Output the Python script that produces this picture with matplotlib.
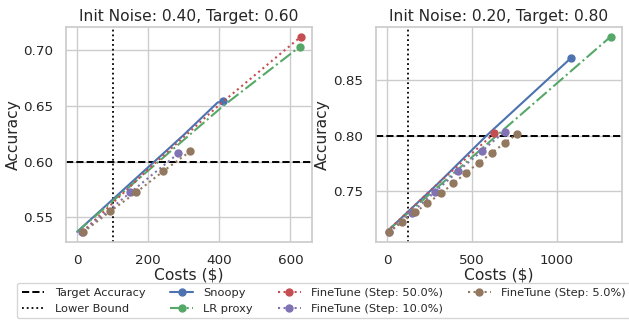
import matplotlib
matplotlib.use("Agg")
import matplotlib.pyplot as plt
import seaborn as sns

# --- dati ---
titles = ["Init Noise: 0.40, Target: 0.60", "Init Noise: 0.20, Target: 0.80"]
targets = [0.60, 0.80]
lower_bounds = [100, 123]
x_ticks = [[0, 200, 400, 600], [0, 500, 1000]]
y_ticks = [[0.55, 0.60, 0.65, 0.70], [0.75, 0.80, 0.85]]

# pannello sinistro
snoopy_x_l = [0, 100, 200, 300, 395, 411]
snoopy_y_l = [0.537, 0.566, 0.595, 0.624, 0.653, 0.654]
lr_x_l = [0, 200, 411, 626]
lr_y_l = [0.537, 0.592, 0.650, 0.703]
ft50_x_l = [15, 200, 400, 629]
ft50_y_l = [0.537, 0.593, 0.651, 0.712]
ft10_x_l = [15, 150, 285]
ft10_y_l = [0.537, 0.5723, 0.6074]
ft5_x_l = [17, 93, 166, 242, 318]
ft5_y_l = [0.5366, 0.5554, 0.5723, 0.5913, 0.6092]

# pannello destro
snoopy_x_r = [0, 300, 586, 1080]
snoopy_y_r = [0.714, 0.757, 0.800, 0.8693]
lr_x_r = [0, 600, 1315]
lr_y_r = [0.714, 0.794, 0.8887]
ft50_x_r = [0, 300, 631]
ft50_y_r = [0.714, 0.757, 0.802]
ft10_x_r = [10, 146, 283, 420, 557, 692]
ft10_y_r = [0.7134, 0.731, 0.7496, 0.7684, 0.786, 0.8036]
ft5_x_r = [13, 88, 166, 238, 317, 391, 465, 539, 617, 692, 768]
ft5_y_r = [0.7134, 0.7223, 0.7313, 0.7393, 0.7482, 0.7571, 0.7666, 0.7755,
           0.7845, 0.7934, 0.8017]

panels = [
    (snoopy_x_l, snoopy_y_l, lr_x_l, lr_y_l, ft50_x_l, ft50_y_l,
     ft10_x_l, ft10_y_l, ft5_x_l, ft5_y_l),
    (snoopy_x_r, snoopy_y_r, lr_x_r, lr_y_r, ft50_x_r, ft50_y_r,
     ft10_x_r, ft10_y_r, ft5_x_r, ft5_y_r),
]

sns.set_theme(style="whitegrid", palette="deep")
plt.rcParams["font.family"] = ["DejaVu Sans"]
blu, verde, rosso, viola, marrone = ["#4C72B0", "#55A868", "#C44E52", "#8172B3", "#937860"]

fig = plt.figure(figsize=(6.29, 3.2), dpi=100)
ax_pos = [[0.1049, 0.2438, 0.3911, 0.6719], [0.5973, 0.2438, 0.3911, 0.6719]]

for i, (sx, sy, lx, ly, f50x, f50y, f10x, f10y, f5x, f5y) in enumerate(panels):
    ax = fig.add_axes(ax_pos[i])
    ax.axhline(targets[i], color="black", linestyle="--", linewidth=1.4, label="Target Accuracy")
    ax.axvline(lower_bounds[i], color="black", linestyle=":", linewidth=1.3, label="Lower Bound")
    ax.plot(sx, sy, "-", color=blu, marker="o", markersize=5, markevery=[-1],
            linewidth=1.5, label="Snoopy")
    ax.plot(lx, ly, "-.", color=verde, marker="o", markersize=5, markevery=[-1],
            linewidth=1.5, label="LR proxy")
    ax.plot(f50x, f50y, ":", color=rosso, marker="o", markersize=5, markevery=[-1],
            linewidth=1.5, label="FineTune (Step: 50.0%)")
    ax.plot(f10x, f10y, ":", color=viola, marker="o", markersize=5,
            linewidth=1.5, label="FineTune (Step: 10.0%)")
    ax.plot(f5x, f5y, ":", color=marrone, marker="o", markersize=5,
            linewidth=1.5, label="FineTune (Step: 5.0%)")
    ax.set_xticks(x_ticks[i])
    ax.set_yticks(y_ticks[i])
    ax.set_title(titles[i], fontsize=11.2, pad=4)
    ax.set_xlabel("Costs ($)", fontsize=11.2, labelpad=0)
    ax.set_ylabel("Accuracy", fontsize=11.2, labelpad=2)
    ax.tick_params(labelsize=9.7, pad=3)

handles, labels = ax.get_legend_handles_labels()
fig.legend(handles, labels, loc="upper left", bbox_to_anchor=(17 / 629, 1 - 283 / 320),
           ncol=4, fontsize=8.2, frameon=True, borderaxespad=0, columnspacing=2.2,
           handletextpad=0.9, labelspacing=0.55)

fig.savefig("out.png", dpi=100)
